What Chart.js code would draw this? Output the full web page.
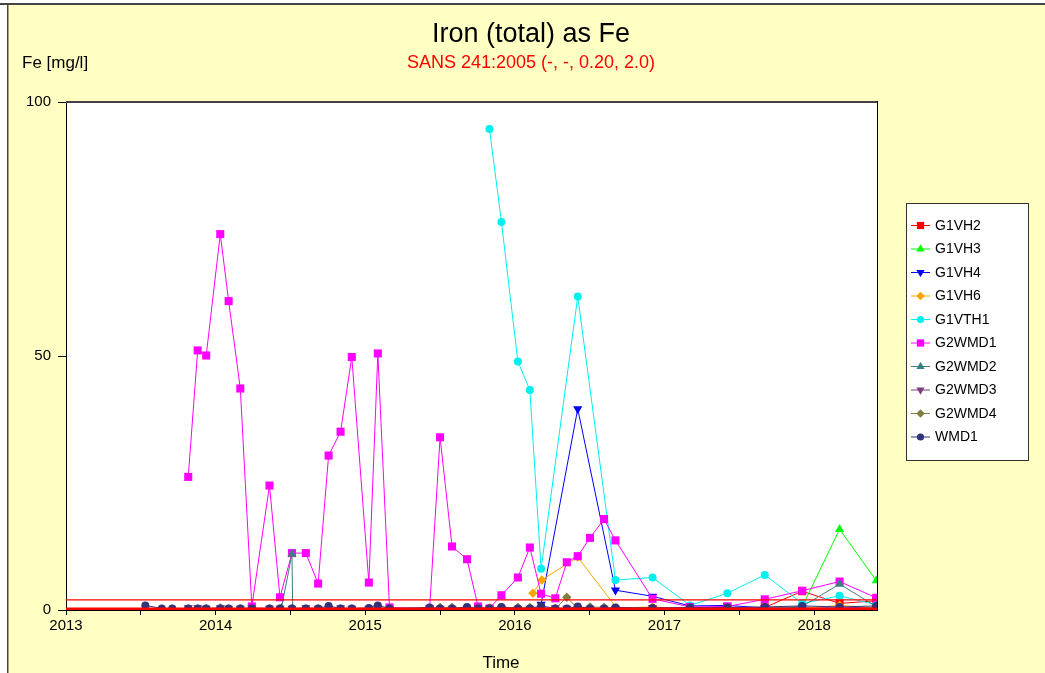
<!DOCTYPE html>
<html>
<head>
<meta charset="utf-8">
<title>Iron (total) as Fe</title>
<script src="https://cdn.jsdelivr.net/npm/chart.js@4/dist/chart.umd.min.js"></script>
<style>
  html, body { margin: 0; padding: 0; background: #ffffff; }
  #wrap { width: 1045px; height: 673px; }
</style>
</head>
<body>
<div id="wrap"><canvas id="chart" width="1045" height="673"></canvas></div>
<script>
// ---- sampling dates (decimal years) ----
const monthlyDates = [
  2013.817, 2013.880, 2013.937, 2014.031, 2014.087, 2014.165, 2014.242, 2014.360,
  2014.430, 2014.510, 2014.603, 2014.685, 2014.755, 2014.835, 2014.910, 2015.024,
  2015.084, 2015.162, 2015.430, 2015.500, 2015.580, 2015.680, 2015.754, 2015.830,
  2015.910, 2016.020, 2016.100, 2016.175, 2016.270, 2016.347, 2016.420, 2016.502,
  2016.596, 2016.672
];
const quarterlyDates = [2016.920, 2017.170, 2017.420, 2017.670, 2017.920, 2018.170, 2018.415];
const wmd1EarlyDates = [2013.530, 2013.640, 2013.710];
const g1vh4Dates = [2016.175, 2016.420, 2016.672];
const g1vh6Dates = [2016.120, 2016.180, 2016.420, 2016.680];
const g1vth1Dates = [2015.830, 2015.910, 2016.020, 2016.100, 2016.175, 2016.420, 2016.672];
const g2wmd2Dates = [2014.440, 2014.510, 2014.515, 2017.670, 2017.920, 2018.170, 2018.415];

// ---- measured Fe concentrations [mg/l] ----
const g1vh2Values = [0.2, 0.2, 0.2, 0.5, 3.7, 1.3, 1.8];
const g1vh3Values = [0.1, 0.1, 0.1, 0.1, 0.6, 15.9, 5.8];
const g1vh4Values = [1.1, 39.6, 3.9, 2.7, 0.8, 0.9, 0.4, 0.4, 0.4, 0.5];
const g1vh6Values = [3.3, 5.9, 10.4, 0.4, 0.6, 0.3, 0.3, 0.3, 0.3, 0.9, 0.4];
const g1vth1Values = [94.7, 76.4, 48.9, 43.3, 8.1, 61.7, 5.9, 6.4, 0.9, 3.3, 6.9, 1.3, 2.8, 1.0];
const g2wmd1Values = [
  26.2, 51.1, 50.1, 74.0, 60.8, 43.6, 0.7, 24.5, 2.5, 11.2, 11.2, 5.2, 30.4, 35.1,
  49.8, 5.4, 50.5, 0.5, 0.2, 34.0, 12.5, 10.0, 0.7, 0.3, 2.9, 6.4, 12.3, 3.2, 2.3,
  9.4, 10.6, 14.2, 17.9, 13.7,
  2.2, 0.6, 0.7, 2.1, 3.8, 5.6, 2.4
];
const g2wmd2Values = [0.4, 11.0, 0.3, 0.3, 0.7, 5.1, 0.7];
const g2wmd3Values = [
  0.4, 0.4, 0.3, 0.4, 0.3, 0.3, 0.4, 0.3, 0.3, 0.3, 0.4, 0.3, 0.3, 0.4, 0.3, 0.3,
  0.4, 0.3, 0.3, 0.3, 0.3, 0.3, 0.4, 0.3, 0.3, 0.3, 0.3, 0.3, 0.4, 0.3, 0.3, 0.3,
  0.3, 0.3,
  0.4, 0.4, 0.5, 0.3, 0.3, 0.3, 0.4
];
const g2wmd4Values = [
  0.2, 0.2, 0.2, 0.4, 0.2, 0.2, 0.2, 0.2, 0.2, 0.2, 0.2, 0.2, 0.2, 0.2, 0.2, 0.2,
  0.2, 0.2, 0.2, 0.5, 0.5, 0.3, 0.3, 0.4, 0.3, 0.5, 0.5, 0.4, 0.3, 2.5, 0.3, 0.6,
  0.5, 0.3
];
const wmd1Values = [
  0.9, 0.3, 0.3,
  0.3, 0.3, 0.3, 0.3, 0.3, 0.3, 0.3, 0.3, 0.3, 0.3, 0.3, 0.3, 0.8, 0.3, 0.3, 0.4,
  0.9, 0.3, 0.5, 0.3, 0.3, 0.6, 0.3, 0.3, 0.6, 0.3, 0.3, 0.8, 0.3, 0.3, 0.7, 0.3,
  0.3, 0.5,
  0.4, 0.5, 0.5, 0.6, 0.8, 0.6, 0.8
];

// ---- SANS 241:2005 limits ----
const limitValues = [0.20, 2.0];
const xRange = [2013, 2018.42];
const yTicks = [0, 50, 100];

const FONT = "'Liberation Sans', Arial, Helvetica, sans-serif";

function pts(xs, ys) {
  return ys.map((y, i) => ({ x: xs[i], y: y }));
}

const seriesDefs = [
  { label: 'G1VH2',  color: '#ff0000', style: 'rect',     radius: 5.7, rot: 0,   data: pts(quarterlyDates, g1vh2Values) },
  { label: 'G1VH3',  color: '#00ff00', style: 'triangle', radius: 5.3, rot: 0,   data: pts(quarterlyDates, g1vh3Values) },
  { label: 'G1VH4',  color: '#0000ff', style: 'triangle', radius: 5.3, rot: 180, data: pts(g1vh4Dates.concat(quarterlyDates), g1vh4Values) },
  { label: 'G1VH6',  color: '#ffa500', style: 'rectRot',  radius: 4.7, rot: 0,   data: pts(g1vh6Dates.concat(quarterlyDates), g1vh6Values) },
  { label: 'G1VTH1', color: '#00f0f0', style: 'circle',   radius: 4.0, rot: 0,   data: pts(g1vth1Dates.concat(quarterlyDates), g1vth1Values) },
  { label: 'G2WMD1', color: '#ff00ff', style: 'rect',     radius: 5.7, rot: 0,   data: pts(monthlyDates.concat(quarterlyDates), g2wmd1Values) },
  { label: 'G2WMD2', color: '#3a8080', style: 'triangle', radius: 5.3, rot: 0,   data: pts(g2wmd2Dates, g2wmd2Values) },
  { label: 'G2WMD3', color: '#804080', style: 'triangle', radius: 5.3, rot: 180, data: pts(monthlyDates.concat(quarterlyDates), g2wmd3Values) },
  { label: 'G2WMD4', color: '#808040', style: 'rectRot',  radius: 4.7, rot: 0,   data: pts(monthlyDates, g2wmd4Values) },
  { label: 'WMD1',   color: '#33337a', style: 'circle',   radius: 4.0, rot: 0,   data: pts(wmd1EarlyDates.concat(monthlyDates, quarterlyDates), wmd1Values) }
];

const datasets = seriesDefs.map((s, i) => ({
  label: s.label,
  data: s.data,
  borderColor: s.color,
  backgroundColor: s.color,
  borderWidth: 1,
  pointStyle: s.style,
  pointRadius: s.radius,
  pointRotation: s.rot,
  pointBorderWidth: 0,
  pointBackgroundColor: s.color,
  tension: 0,
  clip: 0,
  order: seriesDefs.length - i + 1
}));

// limit lines, drawn on top of the series
limitValues.forEach((v, i) => {
  datasets.push({
    label: 'limit ' + v,
    data: [{ x: xRange[0], y: v }, { x: xRange[1], y: v }],
    borderColor: '#ff0000',
    borderWidth: i === 0 ? 3 : 1.4,
    pointRadius: 0,
    tension: 0,
    clip: 0,
    order: 0
  });
});

function marker(ctx, style, radius, rot, x, y) {
  if (Chart.helpers && Chart.helpers.drawPoint) {
    Chart.helpers.drawPoint(ctx, { pointStyle: style, radius: radius, rotation: rot, borderWidth: 0 }, x, y);
    return;
  }
  ctx.beginPath();
  ctx.arc(x, y, radius, 0, Math.PI * 2);
  ctx.fill();
}

const framePlugin = {
  id: 'frame',
  beforeDraw(chart) {
    const ctx = chart.ctx;
    const a = chart.chartArea;
    ctx.save();
    ctx.fillStyle = '#ffffff';
    ctx.fillRect(0, 0, chart.width, chart.height);
    ctx.fillStyle = '#ffffc4';
    ctx.fillRect(8, 5, chart.width - 8, chart.height - 5);
    ctx.fillStyle = '#444444';
    ctx.fillRect(0, 3, chart.width, 2);
    ctx.fillRect(7, 3, 1.5, chart.height - 3);
    ctx.fillStyle = '#ffffff';
    ctx.fillRect(a.left, a.top, a.right - a.left, a.bottom - a.top);
    ctx.restore();
  },
  afterDatasetsDraw(chart) {
    const ctx = chart.ctx;
    const a = chart.chartArea;
    ctx.save();
    ctx.fillStyle = '#404040';
    ctx.fillRect(a.left, a.top - 1, a.right - a.left + 1, 2);
    ctx.fillStyle = '#000000';
    ctx.fillRect(a.right, a.top - 1, 1, a.bottom - a.top + 1);
    ctx.restore();
  },
  afterDraw(chart) {
    const ctx = chart.ctx;
    ctx.save();
    ctx.textBaseline = 'middle';

    // headings
    ctx.fillStyle = '#000000';
    ctx.textAlign = 'center';
    ctx.font = '27px ' + FONT;
    ctx.fillText('Iron (total) as Fe', 531, 35);
    ctx.fillStyle = '#ff0000';
    ctx.font = '18px ' + FONT;
    ctx.fillText('SANS 241:2005 (-, -, 0.20, 2.0)', 531, 63);
    ctx.fillStyle = '#000000';
    ctx.textAlign = 'left';
    ctx.font = '17px ' + FONT;
    ctx.fillText('Fe [mg/l]', 22, 63);
    ctx.textAlign = 'center';
    ctx.font = '17px ' + FONT;
    ctx.fillText('Time', 501, 663);

    // legend
    const lx = 906, ly = 203, lw = 122, lh = 257;
    ctx.fillStyle = '#ffffff';
    ctx.fillRect(lx, ly, lw, lh);
    ctx.strokeStyle = '#333333';
    ctx.lineWidth = 1;
    ctx.strokeRect(lx + 0.5, ly + 0.5, lw, lh);
    ctx.textAlign = 'left';
    ctx.font = '14px ' + FONT;
    seriesDefs.forEach((s, i) => {
      const y = 225 + i * 23.5;
      ctx.strokeStyle = s.color;
      ctx.lineWidth = 1;
      ctx.beginPath();
      ctx.moveTo(911, y + 0.5);
      ctx.lineTo(930, y + 0.5);
      ctx.stroke();
      ctx.fillStyle = s.color;
      marker(ctx, s.style, s.radius * 0.9, s.rot, 920.5, y + 0.5);
      ctx.fillStyle = '#000000';
      ctx.fillText(s.label, 935, y + 1);
    });
    ctx.restore();
  }
};

new Chart(document.getElementById('chart').getContext('2d'), {
  type: 'line',
  data: { datasets: datasets },
  plugins: [framePlugin],
  options: {
    responsive: false,
    animation: false,
    devicePixelRatio: 1,
    layout: { padding: { left: 6, top: 102, right: 168, bottom: 33 } },
    plugins: {
      legend: { display: false },
      title: { display: false },
      tooltip: { enabled: false }
    },
    scales: {
      x: {
        type: 'linear',
        min: xRange[0],
        max: xRange[1],
        afterFit(s) { s.height = 30; },
        ticks: {
          stepSize: 0.5,
          includeBounds: false,
          autoSkip: false,
          maxRotation: 0,
          padding: 2,
          color: '#000000',
          font: { family: FONT, size: 15 },
          callback(v) {
            const r = Math.round(v);
            return Math.abs(v - r) < 1e-6 ? String(r) : '';
          }
        },
        grid: { drawOnChartArea: false, drawTicks: true, tickLength: 5, color: '#000000' },
        border: { display: true, color: '#000000', width: 1 }
      },
      y: {
        min: yTicks[0],
        max: yTicks[yTicks.length - 1],
        afterFit(s) { s.width = 60; },
        ticks: {
          stepSize: yTicks[1] - yTicks[0],
          padding: 7,
          color: '#000000',
          font: { family: FONT, size: 15 }
        },
        grid: { drawOnChartArea: false, drawTicks: true, tickLength: 8, color: '#000000' },
        border: { display: true, color: '#000000', width: 1 }
      }
    }
  }
});
</script>
</body>
</html>
